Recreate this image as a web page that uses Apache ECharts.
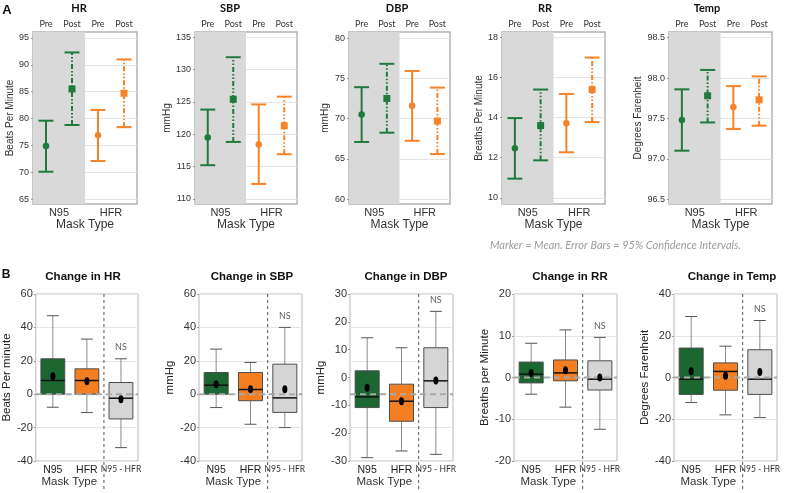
<!DOCTYPE html>
<html><head><meta charset="utf-8">
<script src="https://cdn.jsdelivr.net/npm/echarts@6.0.0/dist/echarts.min.js"></script>
<style>html,body{margin:0;padding:0;background:#fff}#c{width:788px;height:493px}</style>
</head><body><div id="c"></div><script>
// ---------------- DATA ----------------
const timeLabels = ['Pre', 'Post', 'Pre', 'Post'];
const maskTypes = ['N95', 'HFR'];
const changeCats = ['N95', 'HFR', 'N95 - HFR'];

const vitalTitles = ['HR', 'SBP', 'DBP', 'RR', 'Temp'];
const vitalUnits = ['Beats Per Minute', 'mmHg', 'mmHg', 'Breaths Per Minute', 'Degrees Farenheit'];
const changeTitles = ['Change in HR', 'Change in SBP', 'Change in DBP', 'Change in RR', 'Change in Temp'];
const changeUnits = ['Beats Per minute', 'mmHg', 'mmHg', 'Breaths per Minute', 'Degrees Farenheit'];
const caption = 'Marker = Mean. Error Bars = 95% Confidence Intervals.';
const nsLabel = 'NS';
const xAxisTitle = 'Mask Type';

// Panel A (order: N95 Pre, N95 Post, HFR Pre, HFR Post)
const hrMean = [74.9, 85.5, 76.9, 84.7];
const hrLow = [70.1, 78.8, 72.1, 78.4];
const hrHigh = [79.6, 92.3, 81.6, 91.0];
const sbpMean = [119.5, 125.4, 118.4, 121.3];
const sbpLow = [115.2, 118.8, 112.3, 116.9];
const sbpHigh = [123.8, 131.9, 124.6, 125.8];
const dbpMean = [70.5, 72.5, 71.6, 69.7];
const dbpLow = [67.1, 68.25, 67.25, 65.6];
const dbpHigh = [73.9, 76.8, 75.9, 73.85];
const rrMean = [12.47, 13.6, 13.72, 15.39];
const rrLow = [10.96, 11.87, 12.27, 13.77];
const rrHigh = [13.97, 15.39, 15.17, 16.98];
const tempMean = [97.48, 97.78, 97.64, 97.73];
const tempLow = [97.1, 97.45, 97.37, 97.41];
const tempHigh = [97.86, 98.1, 97.9, 98.02];

const hrTicks = [65, 70, 75, 80, 85, 90, 95];
const sbpTicks = [110, 115, 120, 125, 130, 135];
const dbpTicks = [60, 65, 70, 75, 80];
const rrTicks = [10, 12, 14, 16, 18];
const tempTicks = [96.5, 97.0, 97.5, 98.0, 98.5];

// Panel B: [min, Q1, median, Q3, max] for N95, HFR, N95 - HFR
const hrChangeBox = [[-7.8, 0, 8.2, 21.2, 47], [-11, 0, 8.2, 15.2, 33], [-32, -14.8, -2.4, 7, 21.2]];
const hrChangeMean = [10.8, 7.8, -3];
const sbpChangeBox = [[-8, 0, 5.4, 13, 27], [-18, -3.9, 2.8, 13, 19], [-20, -10.9, -2.2, 18, 40]];
const sbpChangeMean = [6, 3, 3];
const dbpChangeBox = [[-19, -4, -0.8, 7, 16.9], [-17, -8.1, -2.1, 3, 13.9], [-18, -4, 4, 13.9, 24.8]];
const dbpChangeMean = [1.9, -2.1, 4.1];
const rrChangeBox = [[-4, -1.3, 0.8, 3.7, 8.2], [-7.1, -0.8, 1.1, 4.2, 11.4], [-12.4, -3, -0.4, 4, 9.6]];
const rrChangeMean = [1.1, 1.75, 0];
const tempChangeBox = [[-12, -8.1, -0.8, 14.1, 29.2], [-17.9, -6.1, 2.9, 7, 15], [-19.2, -8.1, -0.8, 13.3, 27.3]];
const tempChangeMean = [3, 0.8, 2.6];

const hrChangeTicks = [-40, -20, 0, 20, 40, 60];
const sbpChangeTicks = [-40, -20, 0, 20, 40, 60];
const dbpChangeTicks = [-20, -10, 0, 10, 20, 30];          // gridline scale
const dbpChangeTickLabels = [-30, -20, -10, 0, 10, 20, 30]; // labels as printed
const rrChangeTicks = [-20, -10, 0, 10, 20];
const tempChangeTicks = [-40, -20, 0, 20, 40];
const zeroRef = 0;

// ---------------- STYLE / LAYOUT ----------------
const GREEN = '#1f7b3d', ORANGE = '#f4832a';
const BOX_FILL = ['#1c6632', '#f47f22', '#d5d5d5'];
const ARIAL = '"Liberation Sans", Arial, sans-serif';
const CALI = 'Lato, "Open Sans", sans-serif';

const topLayout = [
  {left: 33, width: 104, min: 64.1, max: 96.1, nameX: 9, titleX: 79},
  {left: 195, width: 102, min: 109.2, max: 135.8, nameX: 167, titleX: 230},
  {left: 349, width: 101, min: 59.4, max: 80.75, nameX: 324, titleX: 397},
  {left: 502, width: 103, min: 9.7, max: 18.25, nameX: 480, titleX: 545},
  {left: 669, width: 103, min: 96.44, max: 98.57, nameX: 638, titleX: 707}
];
const botLayout = [
  {left: 35, width: 103, nameX: 12, titleX: 83},
  {left: 199, width: 103, nameX: 177, titleX: 252},
  {left: 350, width: 103, nameX: 327, titleX: 406},
  {left: 514, width: 103, nameX: 490, titleX: 570},
  {left: 674, width: 103, nameX: 652, titleX: 732}
];

const A = [
  {mean: hrMean, low: hrLow, high: hrHigh, ticks: hrTicks, dec: 0},
  {mean: sbpMean, low: sbpLow, high: sbpHigh, ticks: sbpTicks, dec: 0},
  {mean: dbpMean, low: dbpLow, high: dbpHigh, ticks: dbpTicks, dec: 0},
  {mean: rrMean, low: rrLow, high: rrHigh, ticks: rrTicks, dec: 0},
  {mean: tempMean, low: tempLow, high: tempHigh, ticks: tempTicks, dec: 1}
];
const B = [
  {box: hrChangeBox, mean: hrChangeMean, ticks: hrChangeTicks},
  {box: sbpChangeBox, mean: sbpChangeMean, ticks: sbpChangeTicks},
  {box: dbpChangeBox, mean: dbpChangeMean, ticks: dbpChangeTicks, labels: dbpChangeTickLabels},
  {box: rrChangeBox, mean: rrChangeMean, ticks: rrChangeTicks},
  {box: tempChangeBox, mean: tempChangeMean, ticks: tempChangeTicks}
];

// ---------------- RENDERERS ----------------
function errRender(params, api) {
  const i = api.value(0);
  const pLo = api.coord([i, api.value(1)]);
  const pHi = api.coord([i, api.value(2)]);
  const color = i < 2 ? GREEN : ORANGE;
  const post = i % 2 === 1;
  const h = 7.5, x = pLo[0];
  const vs = {stroke: color, lineWidth: 2};
  if (post) vs.lineDash = [5, 2, 1.5, 2, 1.5, 2];
  return {type: 'group', children: [
    {type: 'line', shape: {x1: x, y1: pLo[1], x2: x, y2: pHi[1]}, style: vs},
    {type: 'line', shape: {x1: x - h, y1: pLo[1], x2: x + h, y2: pLo[1]}, style: {stroke: color, lineWidth: 2}},
    {type: 'line', shape: {x1: x - h, y1: pHi[1], x2: x + h, y2: pHi[1]}, style: {stroke: color, lineWidth: 2}}
  ]};
}
function boxRender(params, api) {
  const i = api.value(0);
  const y = v => api.coord([i, v])[1];
  const x = api.coord([i, api.value(3)])[0];
  const bw = api.size([1, 0])[0] * 0.7;
  const cap = bw * 0.5;
  const mn = y(api.value(1)), q1 = y(api.value(2)), md = y(api.value(3)), q3 = y(api.value(4)), mx = y(api.value(5));
  const ws = {stroke: '#8c8c8c', lineWidth: 1};
  return {type: 'group', children: [
    {type: 'line', shape: {x1: x, y1: mx, x2: x, y2: q3}, style: ws},
    {type: 'line', shape: {x1: x, y1: q1, x2: x, y2: mn}, style: ws},
    {type: 'line', shape: {x1: x - cap / 2, y1: mx, x2: x + cap / 2, y2: mx}, style: {stroke: '#555', lineWidth: 1}},
    {type: 'line', shape: {x1: x - cap / 2, y1: mn, x2: x + cap / 2, y2: mn}, style: {stroke: '#555', lineWidth: 1}},
    {type: 'rect', shape: {x: x - bw / 2, y: q3, width: bw, height: q1 - q3}, style: {fill: BOX_FILL[i], stroke: '#4d4d4d', lineWidth: 1}},
    {type: 'line', shape: {x1: x - bw / 2, y1: md, x2: x + bw / 2, y2: md}, style: {stroke: '#111', lineWidth: 1.5}}
  ]};
}
function zeroRender(params, api) {
  const cs = params.coordSys;
  const yy = api.coord([0, api.value(1)])[1];
  return {type: 'line', shape: {x1: cs.x, y1: yy, x2: cs.x + cs.width, y2: yy}, style: {stroke: '#a9a9a9', lineWidth: 2, lineDash: [6, 4]}};
}
function sepRender(params, api) {
  const cs = params.coordSys;
  const xx = (api.coord([1, 0])[0] + api.coord([2, 0])[0]) / 2;
  return {type: 'line', shape: {x1: xx, y1: cs.y, x2: xx, y2: cs.y + cs.height + 29}, style: {stroke: '#555', lineWidth: 1, lineDash: [3, 3]}};
}

// ---------------- OPTION ----------------
const grid = [], xAxis = [], yAxis = [], series = [], graphic = [];
function txt(text, x, y, font, fill, align) {
  graphic.push({type: 'text', x: x, y: y, silent: true, style: {text: text, font: font, fill: fill || '#000',
    align: align || 'center', verticalAlign: 'middle', textAlign: align || 'center', textVerticalAlign: 'middle'}});
}

A.forEach((p, k) => {
  const L = topLayout[k];
  grid.push({left: L.left, top: 32, width: L.width, height: 172, show: true, borderColor: '#b3b3b3', borderWidth: 1.5});
  const g = grid.length - 1;
  xAxis.push({gridIndex: g, type: 'category', position: 'top', data: timeLabels,
    axisLine: {show: false}, axisTick: {show: false}, splitLine: {show: false},
    axisLabel: {interval: 0, fontFamily: CALI, fontSize: 9, color: '#333', margin: 3}});
  const xt = xAxis.length - 1;
  xAxis.push({gridIndex: g, type: 'category', position: 'bottom', data: maskTypes,
    axisLine: {show: false}, axisTick: {show: false}, splitLine: {show: false},
    splitArea: {show: true, interval: 0, areaStyle: {color: ['#d9d9d9', 'rgba(255,255,255,0)']}},
    axisLabel: {interval: 0, fontFamily: ARIAL, fontSize: 11, color: '#333', margin: 3},
    name: xAxisTitle, nameLocation: 'middle', nameGap: 15,
    nameTextStyle: {fontFamily: ARIAL, fontSize: 12, color: '#333'}});
  yAxis.push({gridIndex: g, type: 'value', position: 'left', min: L.min, max: L.max,
    name: vitalUnits[k], nameLocation: 'middle', nameGap: L.left - L.nameX - 6,
    nameTextStyle: {fontFamily: ARIAL, fontSize: 10, color: '#333'},
    axisLine: {show: false},
    axisTick: {show: true, length: 2, lineStyle: {color: '#999'}, customValues: p.ticks},
    axisLabel: {customValues: p.ticks, fontFamily: ARIAL, fontSize: 9, color: '#333', margin: 4,
      formatter: v => Number(v).toFixed(p.dec)},
    splitLine: {show: true, lineStyle: {color: '#e4e4e4', width: 1}}});
  const yi = yAxis.length - 1;
  series.push({type: 'custom', xAxisIndex: xt, yAxisIndex: yi, renderItem: errRender, silent: true, z: 3,
    encode: {x: 0, y: [1, 2]}, data: p.low.map((lo, i) => [i, lo, p.high[i]])});
  series.push({type: 'scatter', xAxisIndex: xt, yAxisIndex: yi, silent: true, z: 4,
    data: p.mean.map((m, i) => ({value: [i, m], symbol: i % 2 ? 'rect' : 'circle', symbolSize: i % 2 ? 7 : 6.5,
      itemStyle: {color: i < 2 ? GREEN : ORANGE, opacity: 1}}))});
  txt(vitalTitles[k], L.titleX, 8, 'bold 11px ' + CALI, '#111');
});

B.forEach((p, k) => {
  const L = botLayout[k];
  grid.push({left: L.left, top: 294, width: L.width, height: 167, show: true, borderColor: '#b8b8b8', borderWidth: 1});
  const g = grid.length - 1;
  xAxis.push({gridIndex: g, type: 'category', data: changeCats,
    axisLine: {show: false}, axisTick: {show: false}, splitLine: {show: false},
    axisLabel: {interval: 0, hideOverlap: false, fontFamily: ARIAL, fontSize: 10.5, color: '#222', margin: 4,
      formatter: (v, i) => i === 2 ? '{s|' + v + '}' : v,
      rich: {s: {fontFamily: CALI, fontSize: 8.5, color: '#333'}}}});
  const xi = xAxis.length - 1;
  const labelTicks = p.labels || p.ticks;
  yAxis.push({gridIndex: g, type: 'value', position: 'left',
    min: labelTicks[0], max: labelTicks[labelTicks.length - 1],
    name: changeUnits[k], nameLocation: 'middle', nameGap: L.left - L.nameX - 7,
    nameTextStyle: {fontFamily: ARIAL, fontSize: 11.5, color: '#222'},
    axisLine: {show: false},
    axisTick: {show: true, length: 2, lineStyle: {color: '#999'}, customValues: labelTicks},
    axisLabel: {customValues: labelTicks, fontFamily: ARIAL, fontSize: 11, color: '#333', margin: 3},
    splitLine: {show: !p.labels, lineStyle: {color: '#e6e6e6', width: 1}}});
  let yi = yAxis.length - 1;
  if (p.labels) {
    yAxis.push({gridIndex: g, type: 'value', position: 'left',
      min: p.ticks[0], max: p.ticks[p.ticks.length - 1],
      axisLine: {show: false}, axisTick: {show: false, customValues: p.ticks},
      axisLabel: {show: false, customValues: p.ticks},
      splitLine: {show: true, lineStyle: {color: '#e6e6e6', width: 1}}});
    yi = yAxis.length - 1;
  }
  series.push({type: 'custom', xAxisIndex: xi, yAxisIndex: yi, renderItem: boxRender, silent: true, z: 3,
    encode: {x: 0, y: [1, 2, 3, 4, 5]}, data: p.box.map((b, i) => [i].concat(b))});
  series.push({type: 'custom', xAxisIndex: xi, yAxisIndex: yi, renderItem: zeroRender, silent: true, z: 4,
    encode: {x: 0, y: 1}, data: [[0, zeroRef]]});
  series.push({type: 'custom', xAxisIndex: xi, yAxisIndex: yi, renderItem: sepRender, silent: true, z: 4, clip: false,
    encode: {x: 0, y: 1}, data: [[0, zeroRef]]});
  series.push({type: 'scatter', xAxisIndex: xi, yAxisIndex: yi, silent: true, z: 5,
    symbol: 'circle', symbolSize: [5, 8], itemStyle: {color: '#000', opacity: 1},
    data: p.mean.map((m, i) => [i, m])});
  series.push({type: 'scatter', xAxisIndex: xi, yAxisIndex: yi, silent: true, z: 5,
    symbolSize: 0.1, itemStyle: {color: 'rgba(0,0,0,0)'},
    label: {show: true, position: 'top', distance: 7, formatter: nsLabel, fontFamily: CALI, fontSize: 9, color: '#333'},
    data: [[2, p.box[2][4]]]});
  txt(changeTitles[k], L.titleX, 277, 'bold 11.5px ' + ARIAL, '#111');
  txt(xAxisTitle, L.left + L.width / 3, 482, '11.5px ' + ARIAL, '#333');
});

txt('A', 7, 10, 'bold 13px ' + ARIAL, '#111');
txt('B', 6, 275, 'bold 12px ' + ARIAL, '#111');
txt(caption, 741, 245, 'italic 11px ' + CALI, '#9c9c9c', 'right');

const chart = echarts.init(document.getElementById('c'), null, {renderer: 'canvas'});
chart.setOption({animation: false, backgroundColor: '#fff', grid, xAxis, yAxis, series, graphic});
</script></body></html>
